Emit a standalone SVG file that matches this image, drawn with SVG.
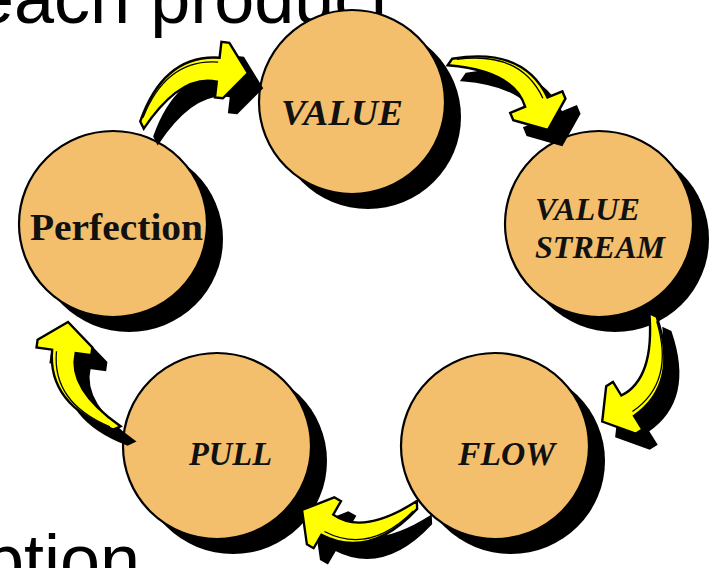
<svg xmlns="http://www.w3.org/2000/svg" xmlns:xlink="http://www.w3.org/1999/xlink" width="721" height="568" viewBox="0 0 721 568">
<style>
.bg{font-family:"Liberation Sans",Arial,sans-serif;font-size:72px;fill:#000}
.sh{fill:#000}
.disc{fill:#F4BF6D;stroke:#000;stroke-width:2.2}
.lbl{font-family:"Liberation Serif","Times New Roman",serif;font-weight:bold;font-style:italic;fill:#111}
.up{font-style:normal}
.yel{fill:#FFFF00;stroke:#000;stroke-width:2.4;stroke-linejoin:miter}
.ashadow{fill:#000;stroke:#000;stroke-width:2}
.ln{fill:none;stroke:#000;stroke-width:1.3}
</style>
<defs>
<path id="arr" d="M0,-4 Q51,-54 99.3,-26.3 L107.9,-39.7 L114.6,-35.4 L118,0 L84.4,11.6 L77.7,7.3 L86.3,-6.1 Q57,-29 0,4 Z"/>
<path id="arrline" d="M4,-6 Q51,-49 96,-23"/>
</defs>
<text class="bg" x="-26" y="23">each product</text>
<text class="bg" x="-16" y="585">ption</text>

<g id="value">
<ellipse class="sh" cx="368" cy="117" rx="93" ry="92"/>
<ellipse class="disc" cx="352" cy="102" rx="93" ry="92"/>
<text class="lbl" x="342" y="125" font-size="36" text-anchor="middle" textLength="122" lengthAdjust="spacingAndGlyphs">VALUE</text>
</g>
<g id="value-stream">
<ellipse class="sh" cx="615" cy="239" rx="94" ry="93"/>
<ellipse class="disc" cx="599" cy="224" rx="94" ry="93"/>
<text class="lbl" x="535" y="220" font-size="32" textLength="105" lengthAdjust="spacingAndGlyphs">VALUE</text>
<text class="lbl" x="535" y="258" font-size="32" textLength="130" lengthAdjust="spacingAndGlyphs">STREAM</text>
</g>
<g id="flow">
<ellipse class="sh" cx="511" cy="461" rx="94" ry="93"/>
<ellipse class="disc" cx="495" cy="446" rx="94" ry="93"/>
<text class="lbl" x="458" y="465" font-size="33" textLength="97" lengthAdjust="spacingAndGlyphs">FLOW</text>
</g>
<g id="pull">
<ellipse class="sh" cx="233" cy="461" rx="94" ry="93"/>
<ellipse class="disc" cx="217" cy="446" rx="94" ry="93"/>
<text class="lbl" x="189" y="465" font-size="33" textLength="83" lengthAdjust="spacingAndGlyphs">PULL</text>
</g>
<g id="perfection">
<ellipse class="sh" cx="129" cy="239" rx="94" ry="93"/>
<ellipse class="disc" cx="113" cy="224" rx="94" ry="93"/>
<text class="lbl up" x="30" y="240" font-size="37" textLength="173" lengthAdjust="spacingAndGlyphs">Perfection</text>
</g>

<g id="connectors">
<g id="c-perfection-value">
<use xlink:href="#arr" class="ashadow" transform="translate(156,140) rotate(-26.1)"/>
<g transform="translate(142,125) rotate(-26.1)"><use xlink:href="#arr" class="yel"/><use xlink:href="#arrline" class="ln"/></g>
</g>
<g id="c-value-stream">
<use xlink:href="#arr" class="ashadow" transform="translate(464,77) rotate(34.8) scale(1.01)"/>
<g transform="translate(450,62) rotate(34.8) scale(1.01)"><use xlink:href="#arr" class="yel"/><use xlink:href="#arrline" class="ln"/></g>
</g>
<g id="c-stream-flow">
<use xlink:href="#arr" class="ashadow" transform="translate(667,330) rotate(115.5)"/>
<g transform="translate(653,315) rotate(115.5)"><use xlink:href="#arr" class="yel"/><use xlink:href="#arrline" class="ln"/></g>
</g>
<g id="c-flow-pull">
<use xlink:href="#arr" class="ashadow" transform="translate(431,520) rotate(177.5) scale(0.975)"/>
<g transform="translate(417,505) rotate(177.5) scale(0.975)"><use xlink:href="#arr" class="yel"/><use xlink:href="#arrline" class="ln"/></g>
</g>
<g id="c-pull-perfection">
<use xlink:href="#arr" class="ashadow" transform="translate(131,443) rotate(-114.8) scale(0.99)"/>
<g transform="translate(117,428) rotate(-114.8) scale(0.99)"><use xlink:href="#arr" class="yel"/><use xlink:href="#arrline" class="ln"/></g>
</g>
</g>
</svg>
